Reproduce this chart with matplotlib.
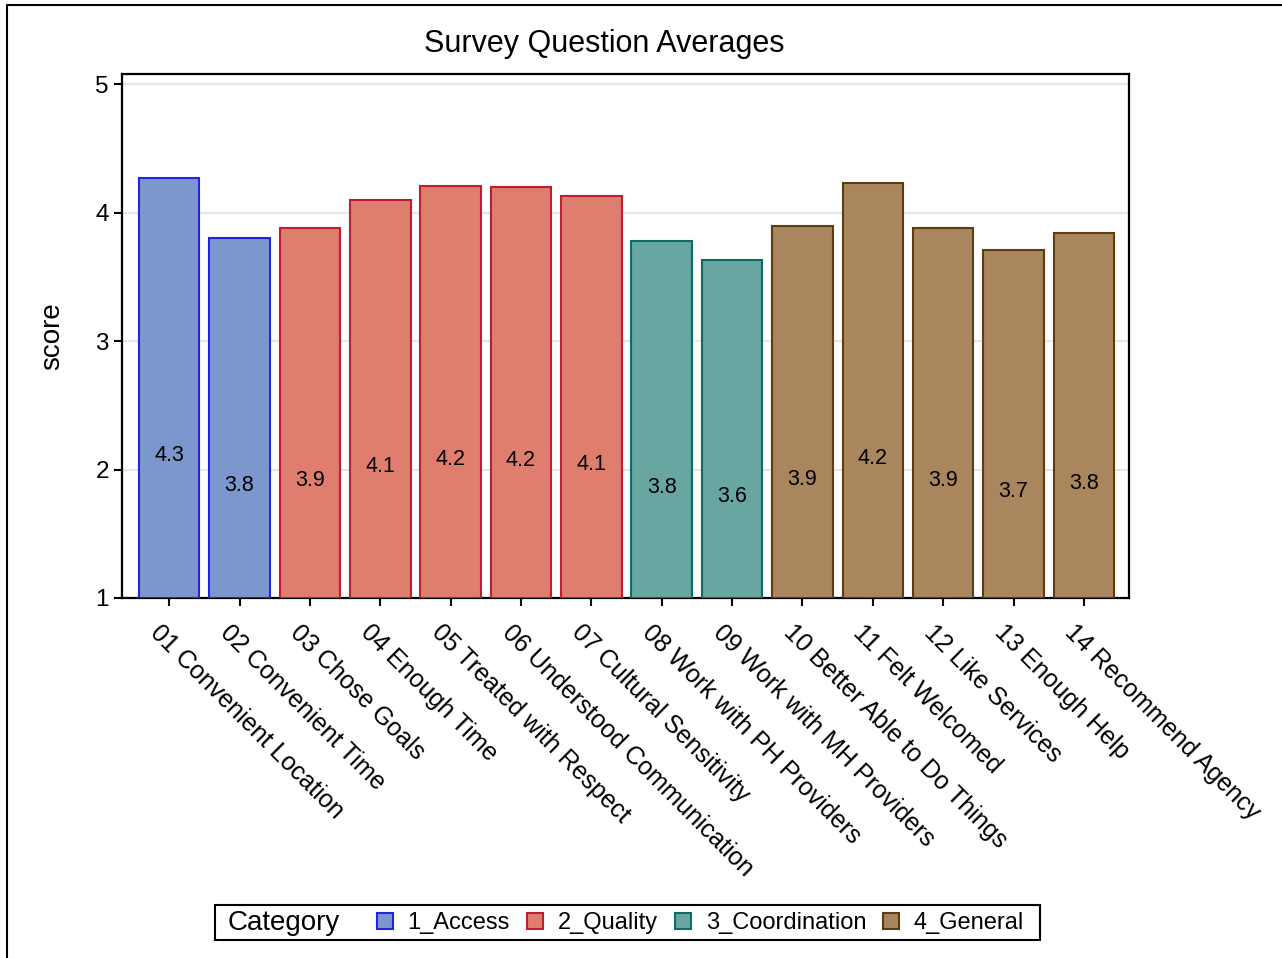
import matplotlib
matplotlib.use('Agg')
import matplotlib.pyplot as plt
from matplotlib.patches import Patch, Rectangle
from matplotlib.lines import Line2D
from matplotlib.transforms import ScaledTranslation

plt.rcParams['font.family'] = ['Liberation Sans', 'DejaVu Sans']

questions = ['01 Convenient Location', '02 Convenient Time', '03 Chose Goals', '04 Enough Time',
             '05 Treated with Respect', '06 Understood Communication', '07 Cultural Sensitivity',
             '08 Work with PH Providers', '09 Work with MH Providers', '10 Better Able to Do Things',
             '11 Felt Welcomed', '12 Like Services', '13 Enough Help', '14 Recommend Agency']
scores = [4.27, 3.80, 3.88, 4.10, 4.21, 4.20, 4.13, 3.78, 3.63, 3.90, 4.23, 3.88, 3.71, 3.84]
category = ['1_Access', '1_Access', '2_Quality', '2_Quality', '2_Quality', '2_Quality', '2_Quality',
            '3_Coordination', '3_Coordination', '4_General', '4_General', '4_General', '4_General', '4_General']
cat_names = ['1_Access', '2_Quality', '3_Coordination', '4_General']
fills = {'1_Access': '#7b97cd', '2_Quality': '#df7e6f', '3_Coordination': '#67a6a1', '4_General': '#a9865d'}
edges = {'1_Access': '#2424e0', '2_Quality': '#bd1e34', '3_Coordination': '#0b6d66', '4_General': '#5e3c12'}

fig = plt.figure(figsize=(12.82, 9.58), dpi=100)
ax = fig.add_axes([122/1282, 1-598/958, 1007/1282, 524/958])

x = list(range(len(scores)))
ax.bar(x, [s - 1 for s in scores], bottom=1, width=0.86,
       color=[fills[c] for c in category], edgecolor=[edges[c] for c in category],
       linewidth=1.5, zorder=3)

# value labels sit at half the score (SAS style)
lab_shift = ScaledTranslation(0, -0.035, fig.dpi_scale_trans)
for xi, s in zip(x, scores):
    ax.text(xi, s / 2, f'{s:.1f}', ha='center', va='center', fontsize=15.5, zorder=4,
            transform=ax.transData + lab_shift)

ax.set_xlim(-0.67, 13.64)
ax.set_ylim(1, 5.08)
ax.set_yticks([1, 2, 3, 4, 5])
ax.grid(axis='y', color='#e6e6e6', linewidth=1.5, zorder=0)
ax.set_axisbelow(True)
for sp in ax.spines.values():
    sp.set_linewidth(1.6)
ax.tick_params(axis='both', direction='out', length=6, width=1.5, labelsize=17.5)
ax.set_xticks(x)
ax.set_xticklabels(questions, rotation=-45, ha='left', va='top', rotation_mode='anchor', fontsize=18)
ax.tick_params(axis='x', pad=10)
for lab in ax.get_xticklabels():
    lab.set_transform(lab.get_transform() + ScaledTranslation(-0.07, 0, fig.dpi_scale_trans))
ax.set_ylabel('score', fontsize=20, labelpad=22)

fig.text(604/1282, 1-44/958, 'Survey Question Averages', ha='center', va='center', fontsize=22)

# legend
handles = [Patch(facecolor=fills[c], edgecolor=edges[c], linewidth=1.5) for c in cat_names]
fig.legend(handles, cat_names, loc='center left', bbox_to_anchor=(377/1282, 1-923/958),
           ncol=4, frameon=False, fontsize=17, handlelength=0.68, handleheight=0.68,
           handletextpad=0.62, columnspacing=0.72, borderpad=0, borderaxespad=0)
fig.text(228/1282, 1-923/958, 'Category', ha='left', va='center', fontsize=20)
fig.add_artist(Rectangle((215/1282, 1-940/958), 825/1282, 35/958, transform=fig.transFigure,
                         fill=False, edgecolor='black', linewidth=1.5))

# outer frame (top and left edges visible)
fig.add_artist(Line2D([7/1282, 7/1282, 1], [0, 1-5/958, 1-5/958], transform=fig.transFigure,
                      color='black', linewidth=1.5))

fig.savefig('out.png', dpi=100)
